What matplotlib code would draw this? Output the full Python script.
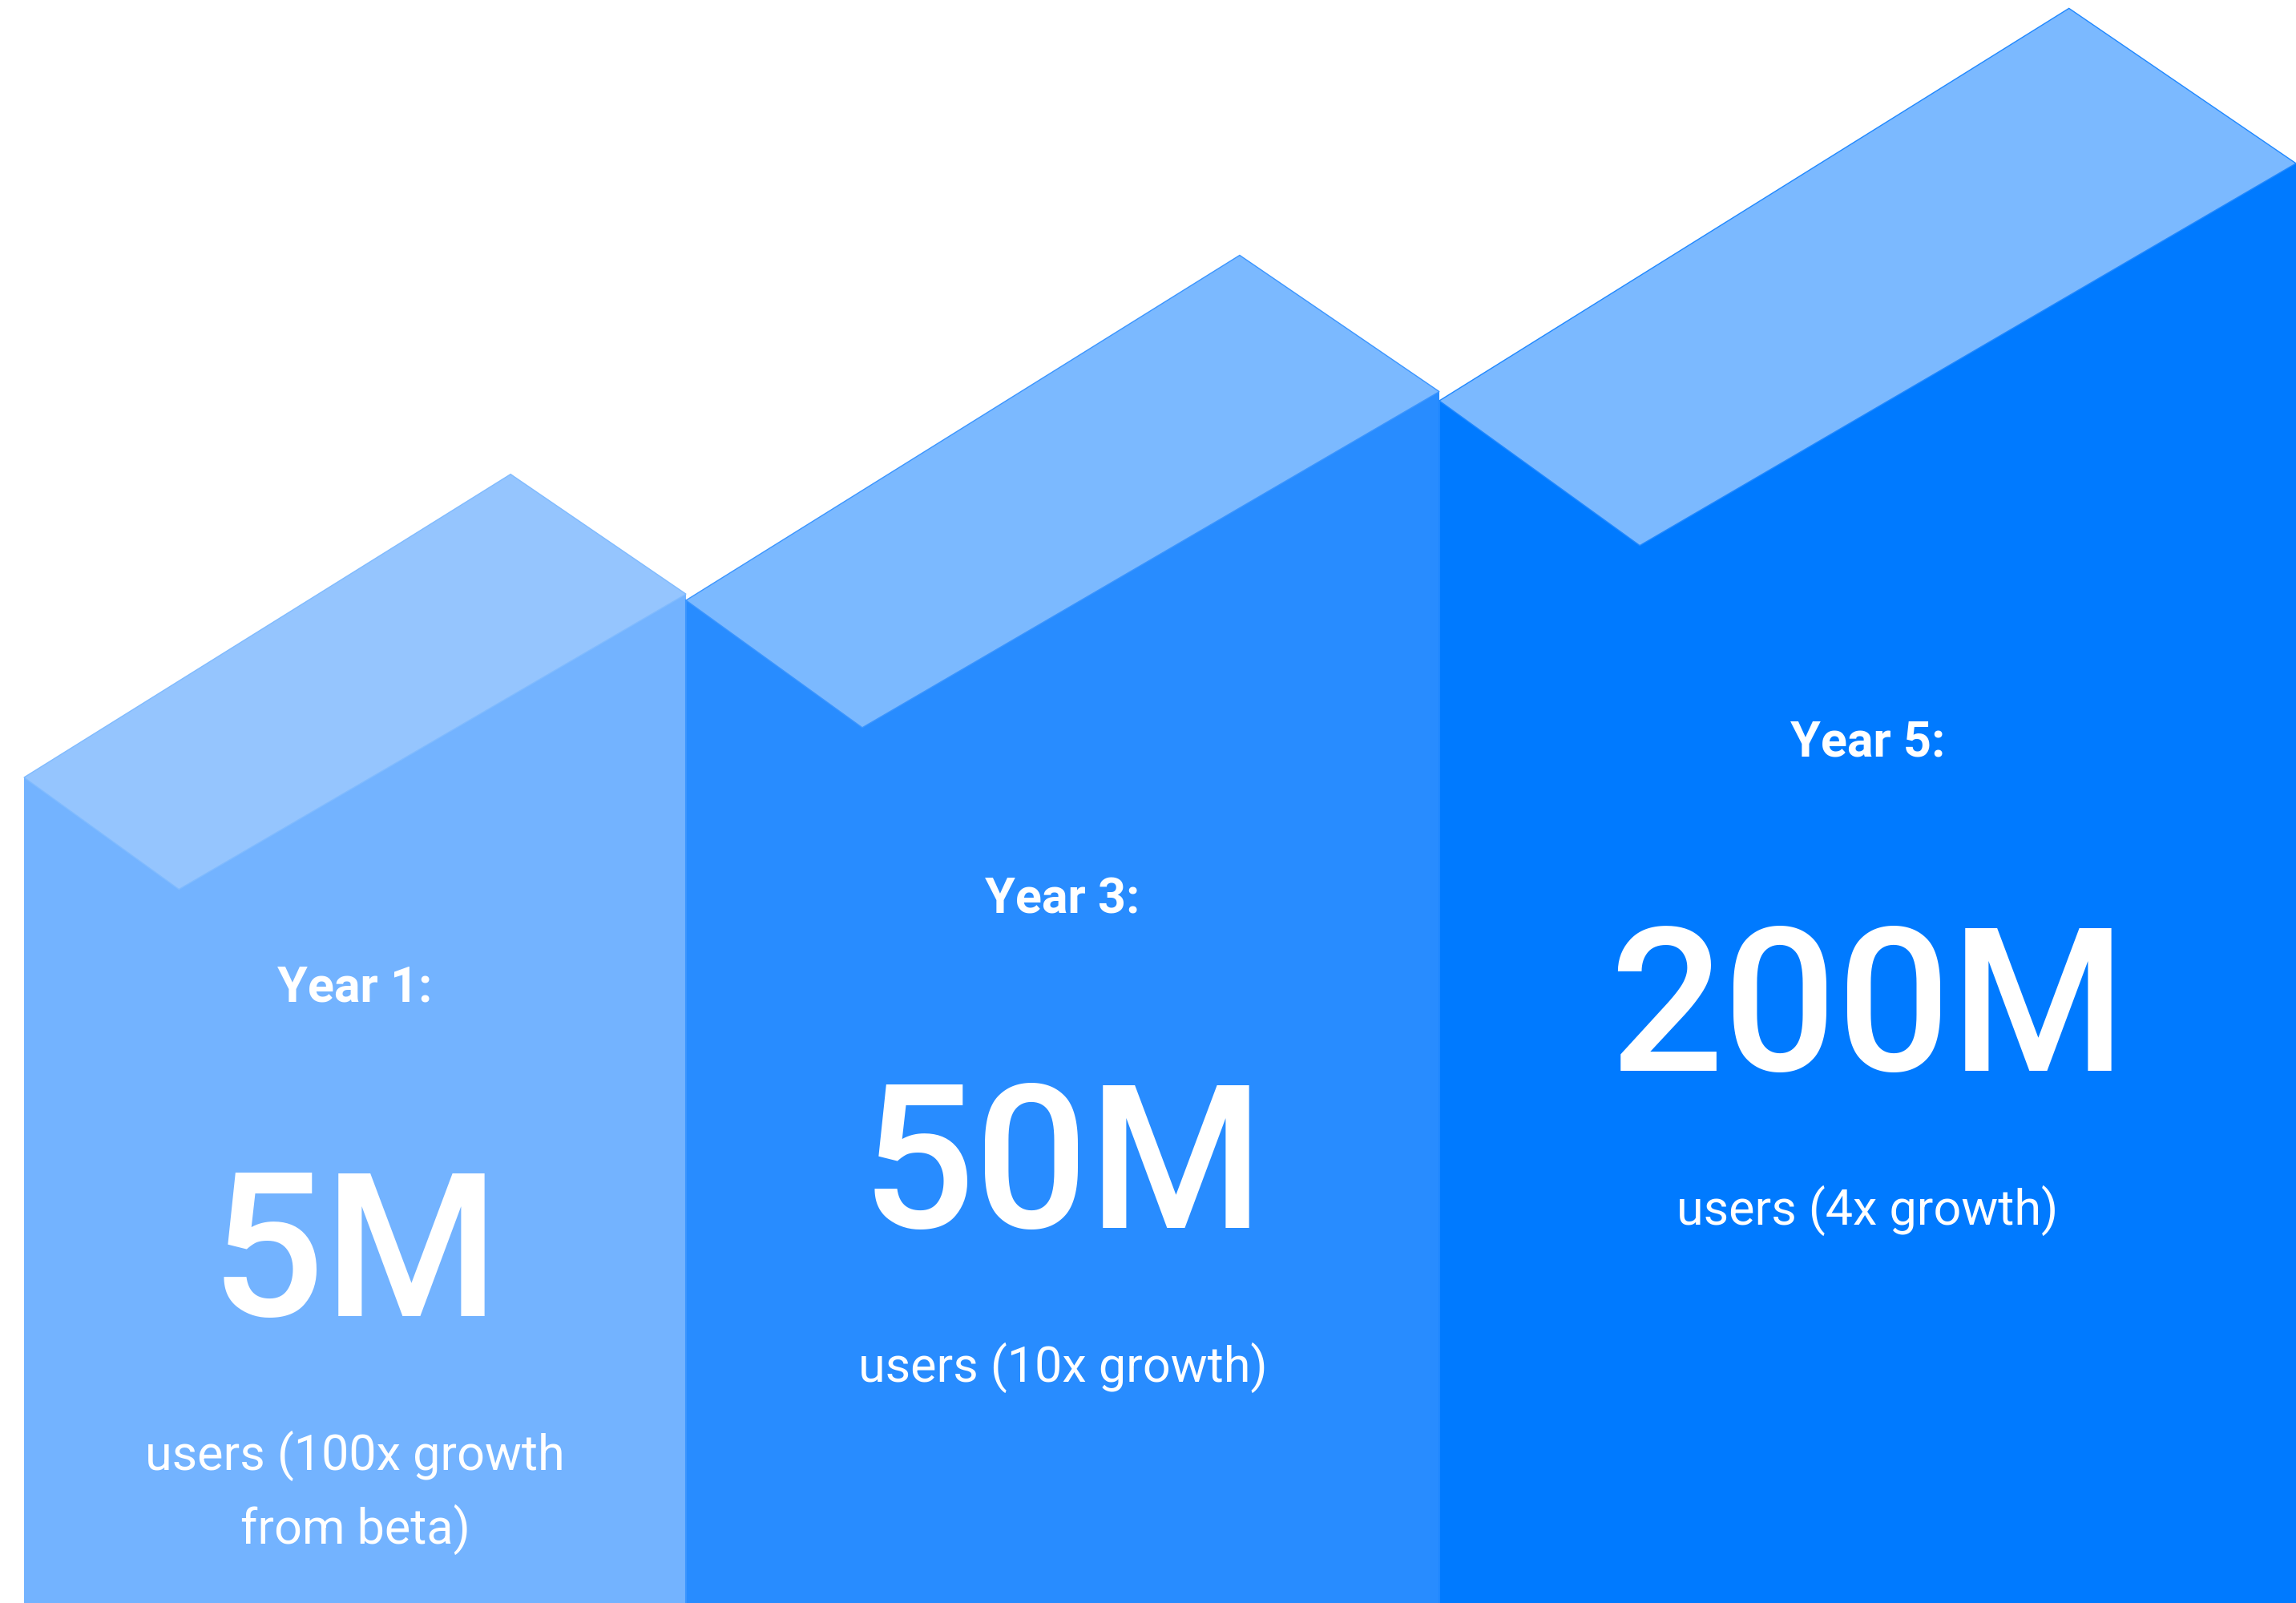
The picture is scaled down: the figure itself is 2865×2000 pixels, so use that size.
import matplotlib
matplotlib.use('Agg')
import matplotlib.pyplot as plt
from matplotlib.patches import Polygon

# chart data
years = ['Year 1:', 'Year 3:', 'Year 5:']
users_millions = [5, 50, 200]
growth_notes = ['users (100x growth\nfrom beta)', 'users (10x growth)', 'users (4x growth)']

# layout (canvas units = pixels, y pointing up)
W, H = 2865, 2000
bar_edges = [30, 856, 1796, 2865]
bar_fronts = [1030, 1251, 1500]        # height of the front-left corner of each step
year_baselines = [750, 860, 1056]
body_colors = ['#73B3FF', '#288CFF', '#007AFF']
top_colors = ['#95C5FE', '#7BB9FF', '#7BB9FF']
edge_colors = ['#80BBFF', '#3A95FF', '#1F88FF']

# top face shape, as fractions of the step width
FACE_BOTTOM = (0.234, -0.169)
FACE_TOP = (0.735, 0.458)
FACE_RIGHT = (1.0, 0.277)

plt.rcParams['font.family'] = ['Roboto', 'DejaVu Sans']

fig = plt.figure(figsize=(W / 100., H / 100.), dpi=100)
ax = fig.add_axes([0, 0, 1, 1])
ax.set_xlim(0, W)
ax.set_ylim(0, H)
ax.axis('off')

for i in range(len(years)):
    x0, x1 = bar_edges[i], bar_edges[i + 1]
    w = x1 - x0
    h = bar_fronts[i]
    left = (x0, h)
    bottom = (x0 + FACE_BOTTOM[0] * w, h + FACE_BOTTOM[1] * w)
    top = (x0 + FACE_TOP[0] * w, h + FACE_TOP[1] * w)
    right = (x0 + FACE_RIGHT[0] * w, h + FACE_RIGHT[1] * w)

    # front body of the step
    body = Polygon([(x0, 0), left, right, (x1, 0)], closed=True,
                   facecolor=body_colors[i], edgecolor='none', zorder=1)
    ax.add_patch(body)
    if i > 0:
        ax.plot([x0, x0], [0, h], color=edge_colors[i], lw=1.5, zorder=2)

    # lighter top face
    face = Polygon([left, top, right, bottom], closed=True,
                   facecolor=top_colors[i], edgecolor=edge_colors[i],
                   linewidth=1.0, zorder=3)
    ax.add_patch(face)

    # labels
    cx = (x0 + x1) / 2.
    yb = year_baselines[i]
    ax.text(cx, yb, years[i], color='white', fontsize=44, fontweight='bold',
            ha='center', va='baseline', zorder=5)
    ax.text(cx, yb - 392, '%dM' % users_millions[i], color='white',
            fontsize=180, fontweight='medium', ha='center', va='baseline', zorder=5)
    for k, line in enumerate(growth_notes[i].split('\n')):
        ax.text(cx, yb - 584 - k * 92, line, color='white', fontsize=44,
                ha='center', va='baseline', zorder=5)

fig.savefig('out.png', dpi=100, facecolor='white')
